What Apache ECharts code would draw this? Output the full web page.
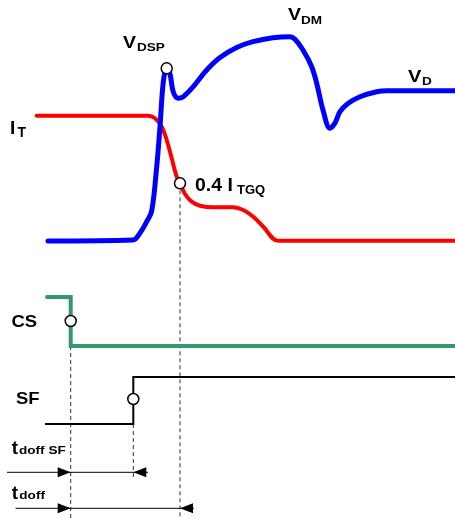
<!DOCTYPE html>
<html>
<head>
<meta charset="utf-8">
<script src="https://cdn.jsdelivr.net/npm/echarts@6/dist/echarts.min.js"></script>
<style>
  html, body { margin: 0; padding: 0; background: #fff; }
  #chart { width: 455px; height: 519px; }
</style>
</head>
<body>
<div id="chart"></div>
<script>
// Switching instants on the time axis
const tCS = 70.7;    // CS command falls
const tSF = 133.3;   // SF feedback rises
const tI04 = 180;    // I_T has fallen to 0.4 I_TGQ

// Anode voltage V_D  [time, level]
const vdCurve = [
  [48, 241], [133, 240], [140, 233], [146.7, 221.7], [151.7, 211],
  [156.7, 166.7], [160, 126.7], [163.3, 82], [166.7, 68.3],
  [170, 74], [173.3, 92], [178.3, 98.3], [183.3, 96.7], [193.3, 86.7],
  [206.7, 70], [220, 57.5], [236.7, 47.5], [253, 41.7], [273, 37.7],
  [290, 36.7], [295, 39.3], [303, 50], [311.7, 66.7], [316.7, 83.3],
  [323, 110], [330, 128.3], [335, 123], [340, 111.7], [348.3, 103.3],
  [360, 96.7], [376.7, 91.7], [386.7, 90.7], [455, 90.7]
];

// Anode current I_T  [time, level]
const itCurve = [
  [36.7, 115.7], [148.3, 115.7], [155, 118.3], [161.7, 126.7],
  [166.7, 140], [171.7, 158.3], [176.7, 176.7], [tI04, 183.3],
  [185, 194], [191.7, 201.7], [200, 205.7], [213.3, 207.3],
  [233.3, 207.3], [243.3, 210], [253.3, 216.7], [263.3, 226.7],
  [278.3, 240.7], [455, 240.7]
];

// Logic signals  [time, level]
const csCurve = [[47, 297], [tCS, 297], [tCS, 346], [454, 346]];
const sfCurve = [[45, 424], [tSF, 424], [tSF, 377], [455, 377]];

// Reference points (open circles)
const markerPoints = [[166.7, 68.3], [tI04, 183.3], [tCS, 321], [tSF, 399]];

// Delay time rows: left tail, start instant, end instant, right tail, row level
const delaySF = { tail: 7, start: tCS, end: tSF, over: 148, row: 472.3 };
const delayOff = { tail: 15.5, start: tCS, end: tI04, over: 194, row: 508.3 };

// Dashed projection lines
const guides = [
  [[tCS, 346], [tCS, 519]],
  [[tSF, 424], [tSF, 477]],
  [[tI04, 183.3], [tI04, 519]]
];

const FONT = '"Liberation Sans", Arial, Helvetica, sans-serif';
// Bold text anchored at its left edge and alphabetic baseline, optionally widened
function label(text, x, baseline, size, stretch) {
  return {
    type: 'text', x: x, y: baseline - 0.35 * size, z: 100,
    scaleX: stretch || 1, originX: 0, originY: 0,
    style: {
      text: text, fill: '#000', align: 'left', verticalAlign: 'middle',
      font: 'bold ' + size + 'px ' + FONT
    }
  };
}

const chart = echarts.init(document.getElementById('chart'), null, { renderer: 'canvas' });

const lineBase = { type: 'line', showSymbol: false, symbol: 'none', silent: true, animation: false };

const series = [];

guides.forEach(function (g) {
  series.push(Object.assign({}, lineBase, {
    data: g, z: 1,
    lineStyle: { color: '#333', width: 1, type: [4, 3] }
  }));
});

series.push(Object.assign({}, lineBase, {
  name: 'I_T', data: itCurve, smooth: 0.35, z: 3,
  lineStyle: { color: '#ff0000', width: 4, cap: 'round', join: 'round' }
}));
series.push(Object.assign({}, lineBase, {
  name: 'V_D', data: vdCurve, smooth: 0.35, z: 4,
  lineStyle: { color: '#0000ff', width: 5, cap: 'round', join: 'round' }
}));
series.push(Object.assign({}, lineBase, {
  name: 'CS', data: csCurve, z: 3,
  lineStyle: { color: '#33996a', width: 4, cap: 'round', join: 'miter' }
}));
series.push(Object.assign({}, lineBase, {
  name: 'SF', data: sfCurve, z: 3,
  lineStyle: { color: '#000', width: 2, join: 'miter' }
}));

[delaySF, delayOff].forEach(function (d) {
  series.push(Object.assign({}, lineBase, {
    data: [[d.tail, d.row], [d.over, d.row]], z: 2,
    lineStyle: { color: '#000', width: 1 }
  }));
});

// Arrow heads: [tip time, row level, direction (+1 points right, -1 points left)]
const arrowHeads = [
  [delaySF.start, delaySF.row, 1], [delaySF.end, delaySF.row, -1],
  [delayOff.start, delayOff.row, 1], [delayOff.end, delayOff.row, -1]
];
series.push({
  type: 'custom', silent: true, animation: false, z: 5,
  data: arrowHeads,
  renderItem: function (params, api) {
    const p = api.coord([api.value(0), api.value(1)]);
    const dir = api.value(2);
    const len = 13, half = 5;
    return {
      type: 'polygon',
      shape: { points: [[p[0], p[1]], [p[0] - dir * len, p[1] - half], [p[0] - dir * len, p[1] + half]] },
      style: { fill: '#000' }
    };
  }
});

series.push({
  type: 'scatter', data: markerPoints, symbol: 'circle', symbolSize: 11,
  silent: true, animation: false, z: 10,
  itemStyle: { color: '#fff', borderColor: '#000', borderWidth: 1.5, opacity: 1 }
});

chart.setOption({
  backgroundColor: '#fff',
  animation: false,
  grid: { left: 0, right: 0, top: 0, bottom: 0 },
  xAxis: { type: 'value', min: 0, max: 455, show: false },
  yAxis: { type: 'value', min: 0, max: 519, inverse: true, show: false },
  series: series,
  graphic: [
    label('V', 123, 49, 16.5, 1.18), label('DSP', 137, 51.5, 11.5, 1.18),
    label('V', 288, 21.3, 16.5, 1.18), label('DM', 301, 25, 11.5, 1.18),
    label('V', 408, 83, 17, 1.18), label('D', 422, 85.7, 11.5, 1.18),
    label('I', 10, 135, 19), label('T', 17.5, 138.5, 14),
    label('0.4 I', 195, 192.5, 18, 1.08), label('TGQ', 237, 195, 13),
    label('CS', 11.5, 328.3, 16.5, 1.12),
    label('SF', 16, 405, 16.5, 1.12),
    label('t', 11.7, 455, 19), label('doff SF', 19, 455, 11.5, 1.18),
    label('t', 11.7, 500, 19), label('doff', 19.3, 500, 11.5, 1.18)
  ]
});
</script>
</body>
</html>
